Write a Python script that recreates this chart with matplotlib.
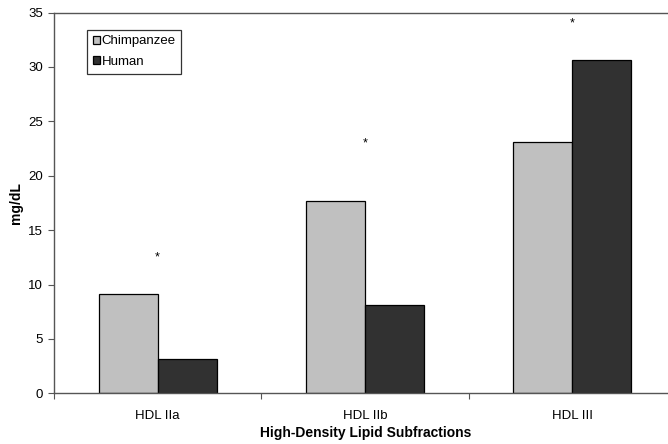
import matplotlib
matplotlib.use("Agg")
import matplotlib.pyplot as plt
import numpy as np

categories = ["HDL IIa", "HDL IIb", "HDL III"]
chimpanzee = [9.1, 17.65, 23.1]
human = [3.15, 8.1, 30.6]
star_y = [12.5, 23.0, 34.0]
series_names = ["Chimpanzee", "Human"]
yticks = [0, 5, 10, 15, 20, 25, 30, 35]

plt.rcParams['font.family'] = ['Liberation Sans', 'DejaVu Sans']

W, H = 668, 444
fig = plt.figure(figsize=(W / 100, H / 100), dpi=100)
ax = fig.add_axes([54 / W, 50.7 / H, 622 / W, 380.7 / H])

x = np.arange(len(categories))
bw = 0.285
ax.bar(x - bw / 2, chimpanzee, bw, color="#C0C0C0", edgecolor="black", linewidth=0.9, label=series_names[0])
ax.bar(x + bw / 2, human, bw, color="#313131", edgecolor="black", linewidth=0.9, label=series_names[1])

for xi, sy in zip(x, star_y):
    ax.text(xi, sy, "*", ha="center", va="center", fontsize=9)

ax.set_xlim(-0.5, 2.5)
ax.set_ylim(0, 35)
ax.set_yticks(yticks)
ax.set_xticks(x)
ax.set_xticklabels(categories, fontsize=9.5)
ax.set_xticks([-0.5, 0.5, 1.5], minor=True)
ax.tick_params(axis="x", which="major", length=0, pad=12)
ax.tick_params(axis="x", which="minor", length=4, width=0.8, color="#555555")
ax.tick_params(axis="y", labelsize=9.5, length=4, width=0.8, color="#555555", pad=4)

for s in ["left", "bottom", "top"]:
    ax.spines[s].set_color("#555555")
    ax.spines[s].set_linewidth(1.0)
ax.spines["right"].set_visible(False)

ax.set_ylabel("mg/dL", fontsize=10, fontweight="bold")
ax.yaxis.set_label_coords(-(54 - 16) / 622, 0.5)
ax.set_xlabel("High-Density Lipid Subfractions", fontsize=10, fontweight="bold")
ax.xaxis.set_label_coords((366 - 54) / 622, -(433 - 393.3) / 380.7)
ax.xaxis.label.set_verticalalignment("center")
ax.yaxis.label.set_verticalalignment("center")

leg = ax.legend(loc="upper left", bbox_to_anchor=((87.3 - 54) / 622, 1 - (30 - 12.7) / 380.7),
                fontsize=9.5, frameon=True, fancybox=False, handlelength=0.55, handleheight=0.55,
                handletextpad=0.1, borderpad=0.42, labelspacing=0.65, borderaxespad=0)
leg.get_frame().set_edgecolor("black")
leg.get_frame().set_linewidth(0.9)

fig.savefig("out.png", dpi=100)
